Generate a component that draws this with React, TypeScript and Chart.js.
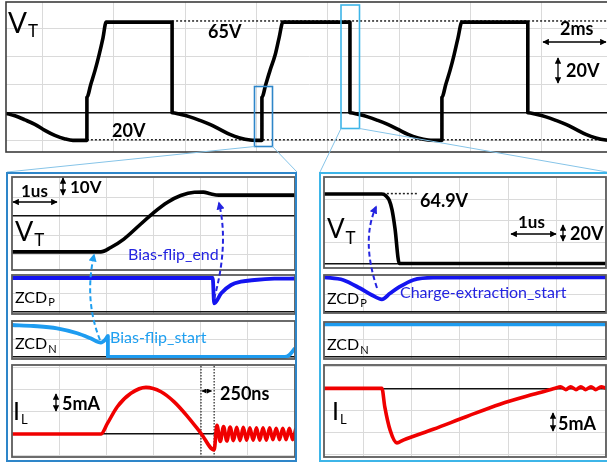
import React, { useEffect, useRef } from "react";
import { Chart, registerables } from "chart.js";

Chart.register(...registerables);

// ================= DATA =================
// Top trace: V_T over time (ms, V)
const topTimeMs = [
  -1.03, -0.78, -0.5, -0.22, 0.06, 0.34, 0.63, 0.85, 1.24,
  1.24, 1.35, 1.47, 1.58, 1.69, 1.78,
  3.63, 3.63,
  3.85, 4.13, 4.41, 4.69, 4.97, 5.25, 5.53, 5.82, 6.15,
  6.15, 6.26, 6.38, 6.52, 6.63, 6.74,
  8.62, 8.62,
  8.84, 9.12, 9.4, 9.68, 9.97, 10.25, 10.53, 10.81, 11.2,
  11.2, 11.31, 11.43, 11.54, 11.65, 11.76,
  13.61, 13.61,
  13.84, 14.12, 14.4, 14.68, 14.96, 15.24, 15.52, 15.8, 16.08,
];
const topVoltV = [
  -0.4, -2.1, -5.0, -8.2, -12.5, -16.1, -18.6, -19.6, -19.6,
  11.1, 20.4, 30.4, 41.1, 53.2, 64.6,
  64.6, 0,
  -1.1, -2.9, -5.4, -8.2, -11.8, -15.4, -17.9, -19.3, -19.6,
  11.1, 20.4, 30.4, 41.1, 53.2, 64.6,
  64.6, 0,
  -1.1, -2.9, -5.4, -8.2, -11.8, -15.4, -17.9, -19.3, -19.6,
  11.1, 20.4, 30.4, 41.1, 53.2, 64.6,
  64.6, 0,
  -1.1, -2.9, -5.4, -8.2, -11.8, -15.4, -17.9, -19.3, -19.6,
];
const topDot65T = [3.63, 16.1];
const topDot65V = [65.4, 65.4];
const topDot20T = [1.24, 16.1];
const topDot20V = [-19.2, -19.2];
const topTicksT = [0, 2, 4, 6, 8, 10, 12, 14, 16];
const topTicksV = [-20, 0, 20, 40, 60];

// Bias-flip zoom (µs)
const lVtTimeUs = [-1.0, 0.89, 1.1, 1.38, 1.74, 2.02, 2.31, 2.59, 2.88, 3.07, 3.22, 3.4, 5.02];
const lVtVoltV = [-18.7, -18.7, -16.4, -12.0, -4.1, 2.0, 7.3, 10.8, 12.5, 12.6, 11.7, 11.0, 11.0];
const lZcdPTimeUs = [-1.0, 3.27, 3.3, 3.45, 3.66, 3.87, 4.16, 4.58, 5.02];
const lZcdPLevel = [3.35, 3.35, 0.82, 1.82, 2.65, 2.98, 3.15, 3.28, 3.3];
const lZcdNTimeUs = [-1.0, -0.54, -0.04, 0.39, 0.67, 0.89, 0.99, 1.04, 1.04, 4.8, 4.9, 5.02];
const lZcdNLevel = [3.2, 3.1, 2.87, 2.37, 1.87, 1.43, 1.77, 2.1, 0, 0, 0.2, 0.87];
const lIlTimeUs = [
  -1.0, 0.89, 1.03, 1.24, 1.53, 1.85, 2.17, 2.45, 2.74, 3.02, 3.3,
  3.36, 3.43, 3.5, 3.57, 3.64, 3.71, 3.78, 3.85, 3.92, 3.99, 4.06, 4.13,
  4.2, 4.27, 4.34, 4.41, 4.48, 4.55, 4.62, 4.69, 4.76, 4.83, 4.9, 4.97, 5.04,
];
const lIlCurrentmA = [
  0, 0, 2.4, 6.2, 9.25, 10.6, 9.6, 7.3, 3.9, 0.16, -3.6,
  2.0, -1.7, 1.7, -1.6, 1.6, -1.5, 1.5, -1.5, 1.5, -1.4, 1.4, -1.4,
  1.4, -1.4, 1.4, -1.4, 1.4, -1.3, 1.3, -1.3, 1.3, -1.3, 1.3, -1.3, 1.3,
];
const lMarkA = [3.02, 3.02];
const lMarkB = [3.3, 3.3];
const lMarkI = [-6, 16];

// Charge-extraction zoom (µs)
const rVtTimeUs = [-0.81, 0.39, 0.475, 0.54, 0.6, 0.66, 0.75, 5.02];
const rVtVoltV = [64.9, 64.9, 63.1, 59.3, 50.0, 32.9, 0, 0];
const rDotT = [0.41, 1.14];
const rDotV = [65.3, 65.3];
const rZcdPTimeUs = [-0.81, -0.41, -0.06, 0.18, 0.39, 0.56, 0.76, 1.04, 1.45, 5.02];
const rZcdPLevel = [3.42, 3.15, 2.32, 1.65, 1.22, 1.82, 2.48, 3.15, 3.38, 3.42];
const rZcdNTimeUs = [-0.81, 5.02];
const rZcdNLevel = [3.27, 3.27];
const rIlTimeUs = [-0.81, 0.39, 0.45, 0.56, 0.7, 0.83, 1.45, 2.13, 2.83, 3.52, 3.97, 4.08, 4.19, 4.29, 4.4, 4.5, 4.6, 4.71, 4.81, 4.92, 5.02];
const rIlCurrentmA = [0, 0, -4.2, -9.5, -12.4, -11.75, -9.3, -6.45, -3.6, -1.36, 0, 0.35, -0.3, 0.35, -0.3, 0.35, -0.3, 0.35, -0.3, 0.35, 0];

const usTicks = [0, 1, 2, 3, 4, 5];
const lVtTicks = [-20, -10, 0, 10, 20];
const zcdTicks = [0, 1.75];
const lIlTicks = [-5, 0, 5, 10, 15];
const rVtTicks = [0, 20, 40, 60, 80];
const rIlTicks = [-15, -10, -5, 0, 5];

// ================= STYLE =================
const BLACK = "#000000";
const ZCDP = "#1414F0";
const ZCDN = "#1E9CF0";
const RED = "#F00000";
const DOT = "#222222";
const GRID = "#dadada";
const FRAME_L = "#2E86C9";
const FRAME_R = "#3DB5E8";
const TXT_BLUE = "#2424E0";
const TXT_LIGHT = "#1E9FF0";
const FONT = "Lato, 'Open Sans', sans-serif";

type Trace = { xs: number[]; ys: number[]; color: string; width: number; dash?: number[] };
type PanelDef = {
  key: string;
  rect: [number, number, number, number];
  x: [number, number];
  y: [number, number];
  xTicks: number[];
  yTicks: number[];
  traces: Trace[];
  frame: string;
  frameWidth: number;
};

const LEFT_X: [number, number] = [-1.0, 5.02];
const RIGHT_X: [number, number] = [-0.806, 5.02];

const PANELS: PanelDef[] = [
  {
    key: "top", rect: [6, 2, 607, 149.5], x: [-1.03, 16.0], y: [-27.9, 78.9],
    xTicks: topTicksT, yTicks: topTicksV, frame: "#3c3c3c", frameWidth: 1.6,
    traces: [
      { xs: topTimeMs, ys: topVoltV, color: BLACK, width: 3.6 },
      { xs: topDot65T, ys: topDot65V, color: DOT, width: 1.5, dash: [2, 2] },
      { xs: topDot20T, ys: topDot20V, color: DOT, width: 1.5, dash: [2, 2] },
    ],
  },
  {
    key: "lvt", rect: [11.5, 176.5, 282.5, 92.5], x: LEFT_X, y: [-28.2, 20.5],
    xTicks: usTicks, yTicks: lVtTicks, frame: "#5c5c5c", frameWidth: 1.8,
    traces: [{ xs: lVtTimeUs, ys: lVtVoltV, color: BLACK, width: 3.6 }],
  },
  {
    key: "lzp", rect: [11.5, 275, 282.5, 39], x: LEFT_X, y: [-0.25, 3.65],
    xTicks: usTicks, yTicks: zcdTicks, frame: "#5c5c5c", frameWidth: 1.8,
    traces: [{ xs: lZcdPTimeUs, ys: lZcdPLevel, color: ZCDP, width: 3.8 }],
  },
  {
    key: "lzn", rect: [11.5, 321, 282.5, 38], x: LEFT_X, y: [-0.2, 3.6],
    xTicks: usTicks, yTicks: zcdTicks, frame: "#5c5c5c", frameWidth: 1.8,
    traces: [{ xs: lZcdNTimeUs, ys: lZcdNLevel, color: ZCDN, width: 3.8 }],
  },
  {
    key: "lil", rect: [11.5, 365, 282.5, 92], x: LEFT_X, y: [-5.23, 15.68],
    xTicks: usTicks, yTicks: lIlTicks, frame: "#5c5c5c", frameWidth: 1.8,
    traces: [
      { xs: lIlTimeUs, ys: lIlCurrentmA, color: RED, width: 3.6 },
      { xs: lMarkA, ys: lMarkI, color: DOT, width: 1.2, dash: [1.5, 1.5] },
      { xs: lMarkB, ys: lMarkI, color: DOT, width: 1.2, dash: [1.5, 1.5] },
    ],
  },
  {
    key: "rvt", rect: [324, 177, 282, 91], x: RIGHT_X, y: [-4.2, 80.8],
    xTicks: usTicks, yTicks: rVtTicks, frame: "#5c5c5c", frameWidth: 1.8,
    traces: [
      { xs: rVtTimeUs, ys: rVtVoltV, color: BLACK, width: 3.6 },
      { xs: rDotT, ys: rDotV, color: DOT, width: 1.5, dash: [2, 2] },
    ],
  },
  {
    key: "rzp", rect: [324, 275, 282, 38], x: RIGHT_X, y: [-0.15, 3.65],
    xTicks: usTicks, yTicks: zcdTicks, frame: "#5c5c5c", frameWidth: 1.8,
    traces: [{ xs: rZcdPTimeUs, ys: rZcdPLevel, color: ZCDP, width: 3.8 }],
  },
  {
    key: "rzn", rect: [324, 322, 282, 37], x: RIGHT_X, y: [-0.2, 3.5],
    xTicks: usTicks, yTicks: zcdTicks, frame: "#5c5c5c", frameWidth: 1.8,
    traces: [{ xs: rZcdNTimeUs, ys: rZcdNLevel, color: ZCDN, width: 3.8 }],
  },
  {
    key: "ril", rect: [324, 365, 282, 92], x: RIGHT_X, y: [-15.6, 5.3],
    xTicks: usTicks, yTicks: rIlTicks, frame: "#5c5c5c", frameWidth: 1.8,
    traces: [{ xs: rIlTimeUs, ys: rIlCurrentmA, color: RED, width: 3.6 }],
  },
];

const framePlugin = {
  id: "frame",
  afterDraw(chart: any, _args: any, opts: any) {
    const { ctx, chartArea: a } = chart;
    ctx.save();
    ctx.strokeStyle = opts.color;
    ctx.lineWidth = opts.width;
    ctx.strokeRect(a.left, a.top, a.right - a.left, a.bottom - a.top);
    ctx.restore();
  },
};

const PAD = 3;

function Panel({ def }: { def: PanelDef }) {
  const ref = useRef<HTMLCanvasElement>(null);
  const [l, t, w, h] = def.rect;
  useEffect(() => {
    const chart = new Chart(ref.current as HTMLCanvasElement, {
      type: "line",
      data: {
        datasets: def.traces.map((tr) => ({
          data: tr.xs.map((x, i) => ({ x, y: tr.ys[i] })),
          borderColor: tr.color,
          borderWidth: tr.width,
          borderDash: tr.dash ?? [],
          pointRadius: 0,
          fill: false,
          tension: 0,
          cubicInterpolationMode: tr.dash ? "default" : "monotone",
          borderJoinStyle: "round",
        })),
      } as any,
      options: {
        animation: false,
        responsive: false,
        events: [],
        layout: { padding: PAD, autoPadding: false },
        plugins: {
          legend: { display: false },
          tooltip: { enabled: false },
          frame: { color: def.frame, width: def.frameWidth },
        } as any,
        scales: {
          x: {
            type: "linear",
            min: def.x[0],
            max: def.x[1],
            ticks: { display: false },
            border: { display: false },
            grid: { color: GRID, lineWidth: 1, drawTicks: false },
            afterBuildTicks: (s: any) => {
              s.ticks = def.xTicks.map((v) => ({ value: v }));
            },
          },
          y: {
            type: "linear",
            min: def.y[0],
            max: def.y[1],
            ticks: { display: false },
            border: { display: false },
            grid: {
              color: (c: any) => (c.tick && c.tick.value === 0 ? "#111111" : GRID),
              lineWidth: (c: any) => (c.tick && c.tick.value === 0 ? 1.4 : 1),
              drawTicks: false,
            },
            afterBuildTicks: (s: any) => {
              s.ticks = def.yTicks.map((v) => ({ value: v }));
            },
          },
        },
      } as any,
      plugins: [framePlugin as any],
    });
    return () => chart.destroy();
  }, []);
  return (
    <canvas
      ref={ref}
      width={Math.round(w + 2 * PAD)}
      height={Math.round(h + 2 * PAD)}
      style={{
        position: "absolute",
        left: l - PAD,
        top: t - PAD,
        width: Math.round(w + 2 * PAD),
        height: Math.round(h + 2 * PAD),
      }}
    />
  );
}

type LabelDef = {
  x: number; b: number; s: number; text: string; bold?: boolean; color?: string;
  sub?: string; subSize?: number; subDy?: number;
};

const LABELS: LabelDef[] = [
  { x: 8, b: 33, s: 28, text: "V", sub: "T", subSize: 17, subDy: 4 },
  { x: 208, b: 38, s: 18, text: "65V", bold: true },
  { x: 112, b: 137, s: 18, text: "20V", bold: true },
  { x: 560, b: 35, s: 18, text: "2ms", bold: true },
  { x: 566, b: 77, s: 18, text: "20V", bold: true },
  { x: 21, b: 197, s: 17, text: "1us", bold: true },
  { x: 70, b: 193, s: 17, text: "10V", bold: true },
  { x: 15, b: 241, s: 27, text: "V", sub: "T", subSize: 17, subDy: 5 },
  { x: 128, b: 260, s: 16, text: "Bias-flip_end", color: TXT_BLUE },
  { x: 15, b: 303, s: 16, text: "ZCD", sub: "P", subSize: 11, subDy: 3 },
  { x: 15, b: 349, s: 16, text: "ZCD", sub: "N", subSize: 11, subDy: 4 },
  { x: 110, b: 343, s: 16, text: "Bias-flip_start", color: TXT_LIGHT },
  { x: 13, b: 420, s: 25, text: "I", sub: "L", subSize: 13, subDy: 4 },
  { x: 62, b: 410, s: 18, text: "5mA", bold: true },
  { x: 220, b: 400, s: 18, text: "250ns", bold: true },
  { x: 420, b: 207, s: 18, text: "64.9V", bold: true },
  { x: 518, b: 228, s: 17, text: "1us", bold: true },
  { x: 570, b: 240, s: 18, text: "20V", bold: true },
  { x: 327, b: 238, s: 26, text: "V", sub: "T", subSize: 17, subDy: 6 },
  { x: 327, b: 304, s: 16, text: "ZCD", sub: "P", subSize: 11, subDy: 3 },
  { x: 400, b: 298, s: 16, text: "Charge-extraction_start", color: TXT_BLUE },
  { x: 327, b: 350, s: 16, text: "ZCD", sub: "N", subSize: 11, subDy: 4 },
  { x: 332, b: 420, s: 25, text: "I", sub: "L", subSize: 13, subDy: 4 },
  { x: 558, b: 430, s: 18, text: "5mA", bold: true },
];

function Label({ d }: { d: LabelDef }) {
  return (
    <div
      style={{
        position: "absolute",
        left: d.x,
        top: d.b - 0.887 * d.s,
        fontFamily: FONT,
        fontSize: d.s,
        lineHeight: `${d.s}px`,
        fontWeight: d.bold ? 700 : 400,
        color: d.color ?? "#000",
        whiteSpace: "nowrap",
      }}
    >
      {d.text}
      {d.sub ? (
        <span style={{ fontSize: d.subSize, position: "relative", top: d.subDy, marginLeft: 1 }}>{d.sub}</span>
      ) : null}
    </div>
  );
}

function Overlay() {
  const conn = "#86C4E8";
  return (
    <svg
      width={607}
      height={464}
      style={{ position: "absolute", left: 0, top: 0, pointerEvents: "none" }}
    >
      <defs>
        <marker id="ahk" viewBox="0 0 10 10" refX="9" refY="5" markerWidth="5" markerHeight="5" orient="auto-start-reverse">
          <path d="M0,0 L10,5 L0,10 z" fill="#000" />
        </marker>
        <marker id="ahb" viewBox="0 0 10 10" refX="8" refY="5" markerWidth="4" markerHeight="4" orient="auto">
          <path d="M0,0 L10,5 L0,10 z" fill={TXT_BLUE} />
        </marker>
        <marker id="ahl" viewBox="0 0 10 10" refX="8" refY="5" markerWidth="4" markerHeight="4" orient="auto">
          <path d="M0,0 L10,5 L0,10 z" fill={TXT_LIGHT} />
        </marker>
      </defs>
      {/* zoom boxes in top trace */}
      <rect x={254.5} y={86.5} width={18} height={60} fill="none" stroke={FRAME_L} strokeWidth={1.6} />
      <rect x={341} y={5} width={18.5} height={123.5} fill="none" stroke={FRAME_R} strokeWidth={1.6} />
      {/* connectors */}
      <line x1={254.5} y1={146.5} x2={7} y2={172} stroke={conn} strokeWidth={1} />
      <line x1={272.5} y1={146.5} x2={297} y2={172} stroke={conn} strokeWidth={1} />
      <line x1={341} y1={128.5} x2={320} y2={172} stroke={conn} strokeWidth={1} />
      <line x1={359.5} y1={128.5} x2={607} y2={172} stroke={conn} strokeWidth={1} />
      {/* frames */}
      <rect x={7} y={173} width={289} height={288} fill="none" stroke={FRAME_L} strokeWidth={2} />
      <rect x={320} y={173} width={300} height={288} fill="none" stroke={FRAME_R} strokeWidth={2} />
      {/* scale arrows */}
      <line x1={543} y1={42} x2={606} y2={42} stroke="#000" strokeWidth={1.3} markerStart="url(#ahk)" markerEnd="url(#ahk)" />
      <line x1={558} y1={58} x2={558} y2={83} stroke="#000" strokeWidth={1.3} markerStart="url(#ahk)" markerEnd="url(#ahk)" />
      <line x1={13} y1={202} x2={57} y2={202} stroke="#000" strokeWidth={1.3} markerStart="url(#ahk)" markerEnd="url(#ahk)" />
      <line x1={63} y1={178} x2={63} y2={195} stroke="#000" strokeWidth={1.3} markerStart="url(#ahk)" markerEnd="url(#ahk)" />
      <line x1={56} y1={394} x2={56} y2={411} stroke="#000" strokeWidth={1.3} markerStart="url(#ahk)" markerEnd="url(#ahk)" />
      <line x1={202} y1={391} x2={211.5} y2={391} stroke="#000" strokeWidth={1} markerStart="url(#ahk)" markerEnd="url(#ahk)" />
      <line x1={511} y1={234} x2={556} y2={234} stroke="#000" strokeWidth={1.3} markerStart="url(#ahk)" markerEnd="url(#ahk)" />
      <line x1={563} y1={225} x2={563} y2={241} stroke="#000" strokeWidth={1.3} markerStart="url(#ahk)" markerEnd="url(#ahk)" />
      <line x1={553} y1={413} x2={553} y2={431} stroke="#000" strokeWidth={1.3} markerStart="url(#ahk)" markerEnd="url(#ahk)" />
      {/* event arrows */}
      <path d="M100,340 Q84,300 94,255" fill="none" stroke={TXT_LIGHT} strokeWidth={2} strokeDasharray="5 3" markerEnd="url(#ahl)" />
      <path d="M214,299 Q229,245 219,203" fill="none" stroke={TXT_BLUE} strokeWidth={2} strokeDasharray="5 3" markerEnd="url(#ahb)" />
      <path d="M377,288 Q361,240 376,207" fill="none" stroke={TXT_BLUE} strokeWidth={2} strokeDasharray="5 3" markerEnd="url(#ahb)" />
    </svg>
  );
}

export default function App() {
  return (
    <div
      style={{
        position: "fixed",
        left: 0,
        top: 0,
        width: 607,
        height: 464,
        overflow: "hidden",
        background: "#ffffff",
      }}
    >
      {PANELS.map((p) => (
        <Panel key={p.key} def={p} />
      ))}
      <Overlay />
      {LABELS.map((d, i) => (
        <Label key={i} d={d} />
      ))}
    </div>
  );
}
